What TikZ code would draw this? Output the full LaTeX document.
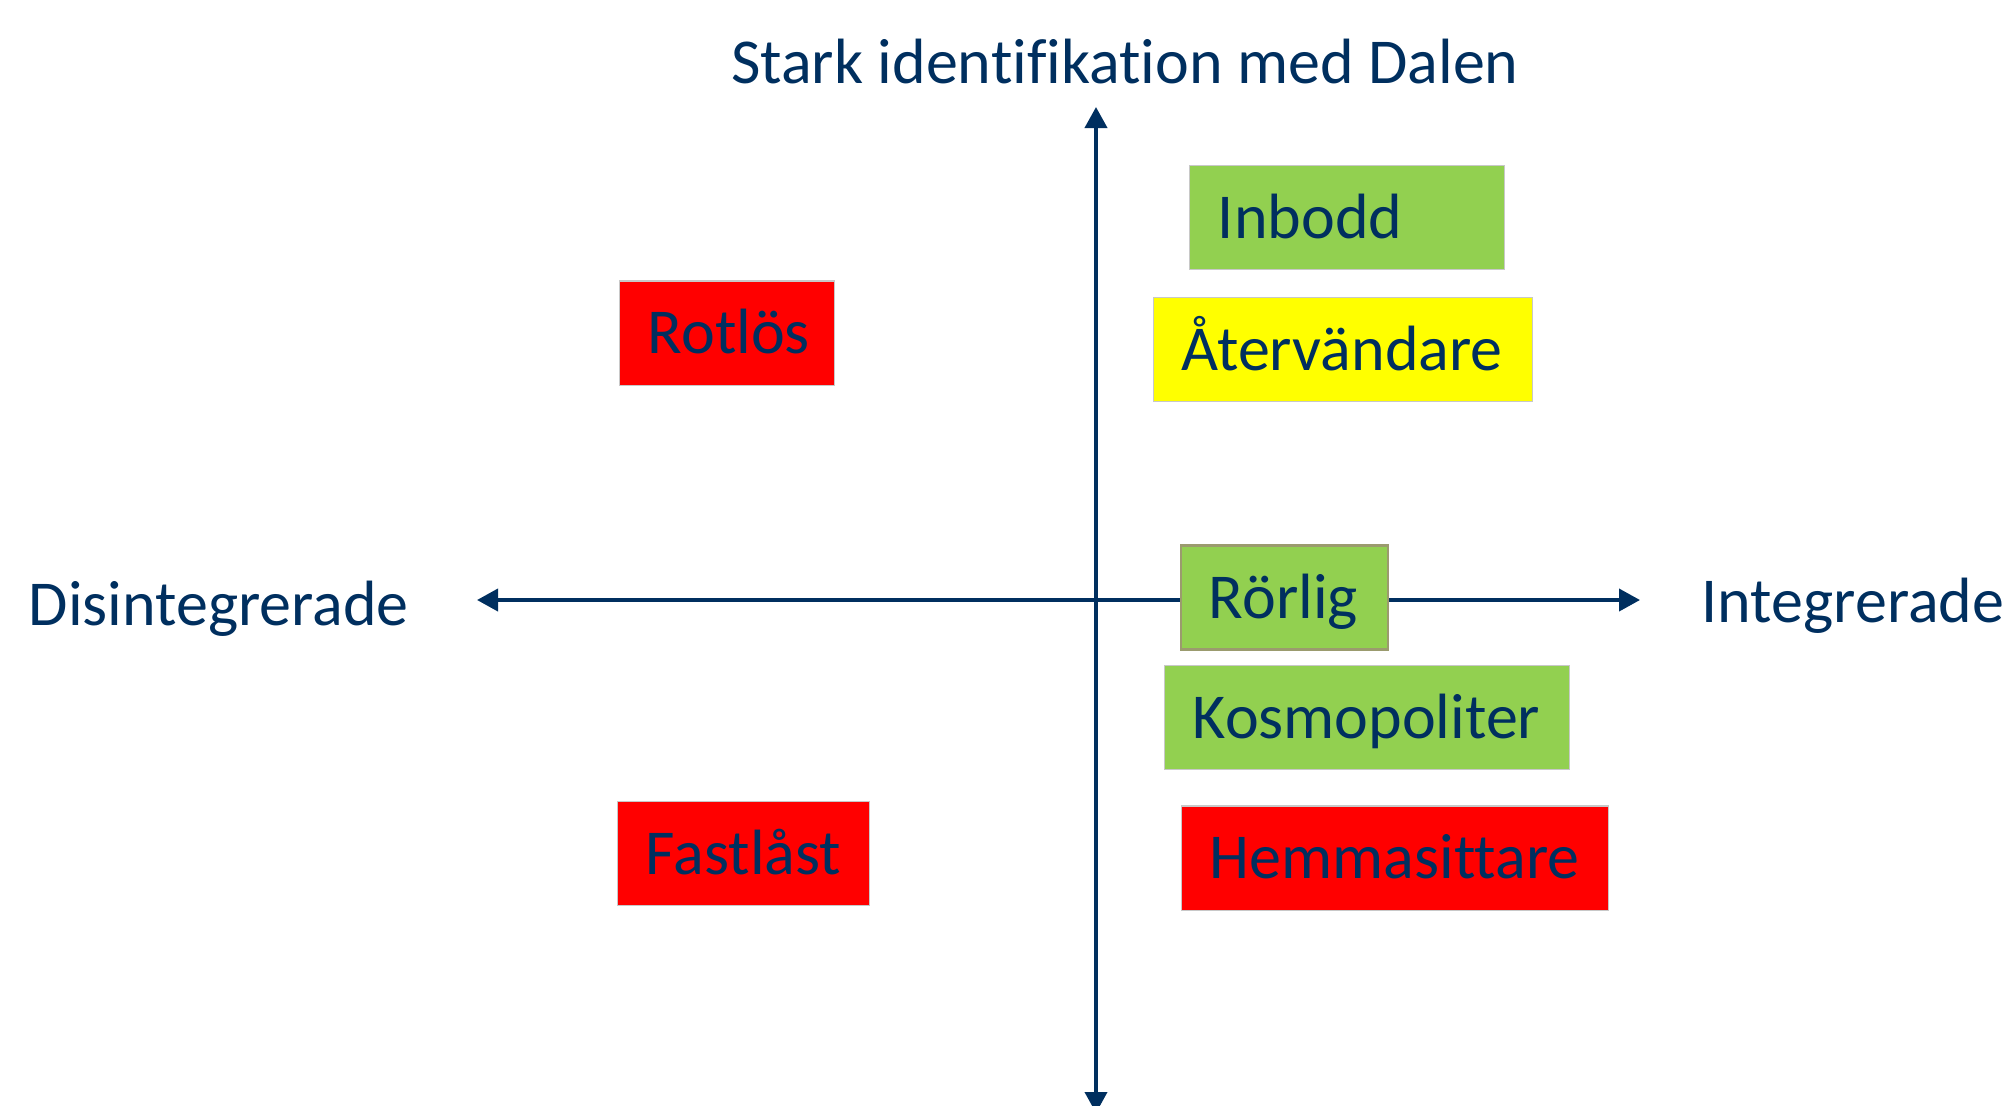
\documentclass[tikz,border=0pt]{standalone}
\usepackage{fontspec}
\setmainfont{Carlito}[Ligatures=NoCommon]
\usepackage{tikz}
\usetikzlibrary{arrows.meta}
\definecolor{navy}{RGB}{0,47,95}
\definecolor{boxgreen}{RGB}{146,208,80}
\definecolor{boxyellow}{RGB}{255,255,0}
\definecolor{boxred}{RGB}{255,0,0}
\definecolor{olive}{RGB}{155,155,110}

\begin{document}
\begin{tikzpicture}[x=0.01cm, y=-0.01cm,
    axis/.style={navy, line width=1.1pt, {Triangle[length=0.21cm,width=0.22cm]}-{Triangle[length=0.21cm,width=0.22cm]}},
    axislabel/.style={text=navy, inner sep=0pt, font=\fontsize{18.2}{22}\selectfont},
    box/.style={rectangle, draw={rgb,255:red,200;green,200;blue,200}, line width=0.3pt,
      text=navy, inner xsep=0.28cm, minimum height=1.04cm, align=left,
      text height=11.7pt, text depth=0pt, font=\fontsize{18.2}{22}\selectfont}]
  \useasboundingbox (0,0) rectangle (2012,1105);
  \clip (0,0) rectangle (2012,1105);
  % axes
  \coordinate (top) at (1096,107);
  \coordinate (bottom) at (1096,1113);
  \coordinate (left) at (477,600);
  \coordinate (right) at (1640,600);
  \draw[axis] (bottom) -- (top);
  \draw[axis] (left) -- (right);
  % axis labels
  \node[axislabel, anchor=base] (stark) at (1125,83) {Stark identifikation med Dalen};
  \node[axislabel, anchor=base west] (disint) at (28,625) {Disintegrerade};
  \node[axislabel, anchor=base west] (integ) at (1701,622) {Integrerade};
  % upper half
  \node[box, fill=boxgreen, text width=2.58cm] (inbodd) at (1347,217.5) {Inbodd};
  \node[box, fill=boxyellow, text width=3.22cm] (atervand) at (1343,349.5) {Återvändare};
  \node[box, fill=boxred, text width=1.58cm] (rotlos) at (727,333) {Rotlös};
  % on the axis
  \node[box, fill=boxgreen, draw=olive, line width=0.8pt, text width=1.51cm] (rorlig) at (1284.5,597.5) {Rörlig};
  % lower half
  \node[box, fill=boxgreen, text width=3.48cm] (kosmo) at (1367,717.5) {Kosmopoliter};
  \node[box, fill=boxred, text width=1.95cm] (fastlast) at (743.5,853.5) {Fastlåst};
  \node[box, fill=boxred, text width=3.7cm] (hemma) at (1395,858) {Hemmasittare};
\end{tikzpicture}
\end{document}
